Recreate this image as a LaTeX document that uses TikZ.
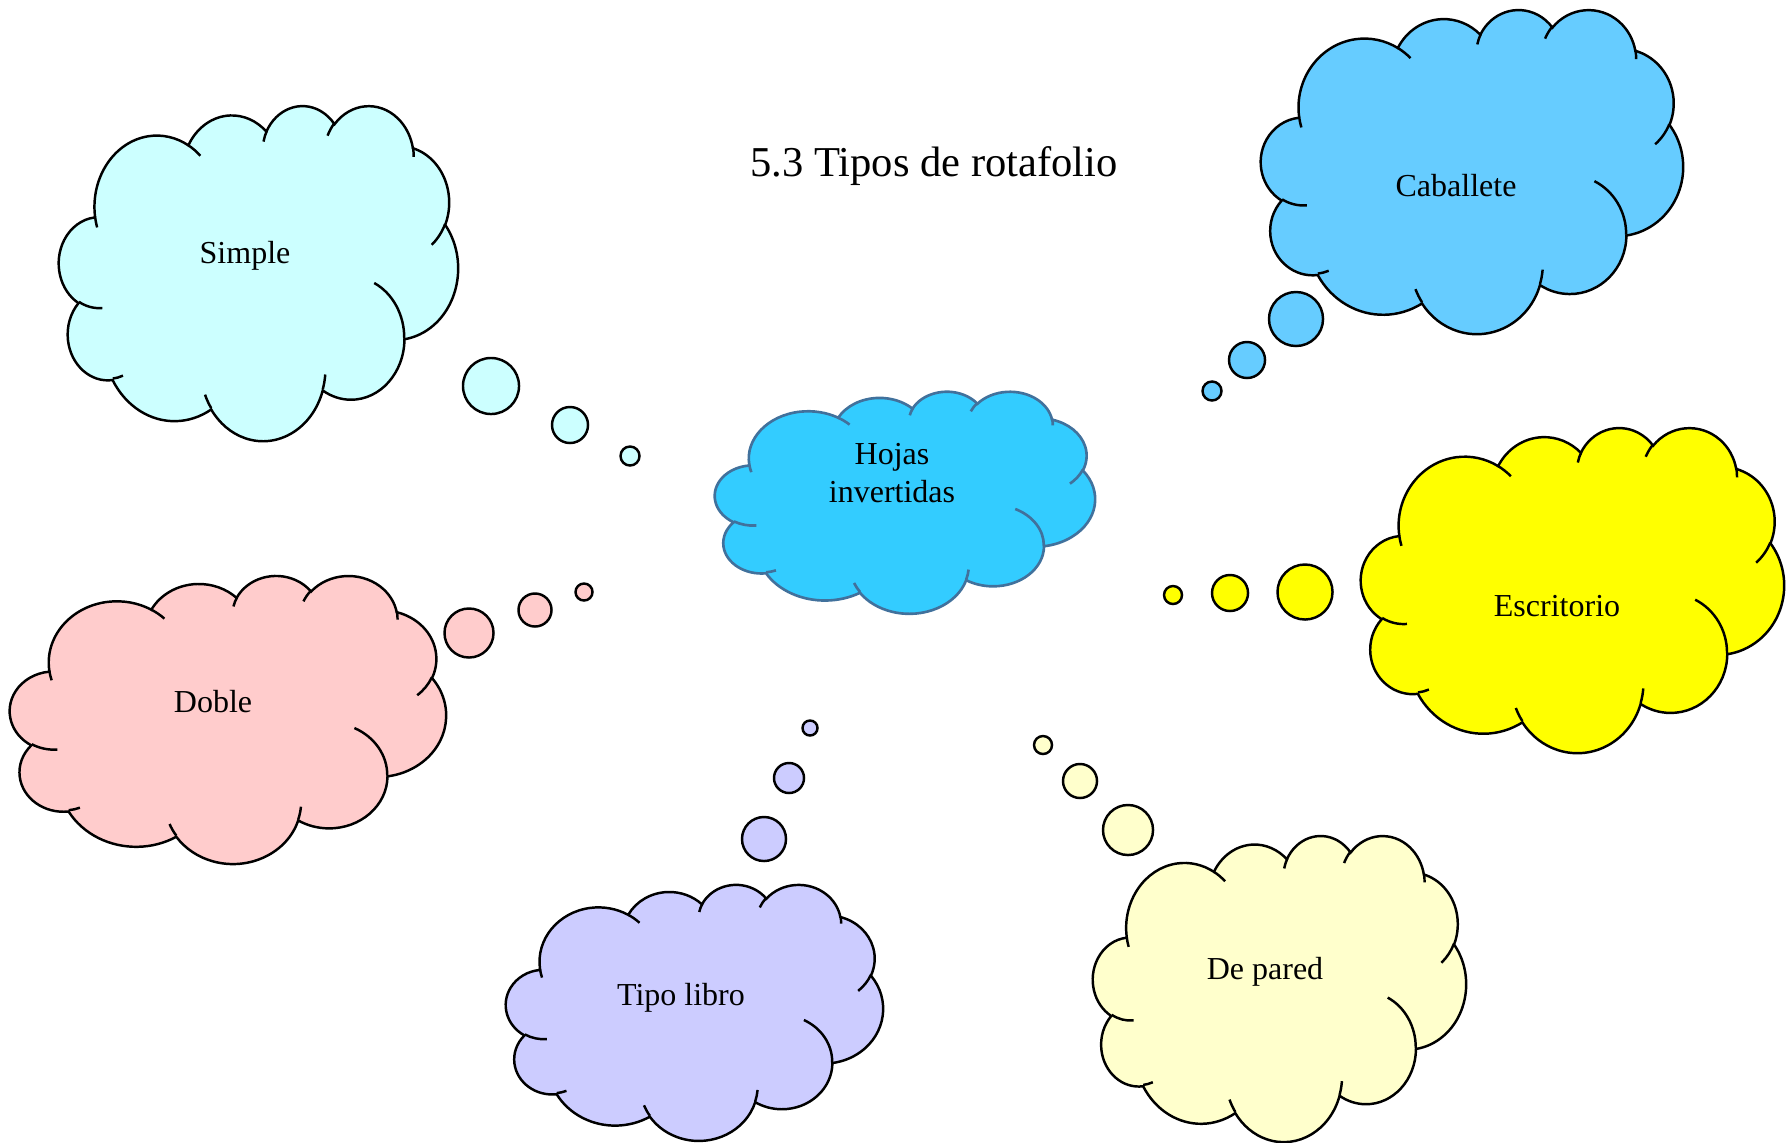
\documentclass[tikz,border=0pt]{standalone}
\usepackage{fontspec}
\setmainfont{Liberation Serif}
\usepackage{tikz}

\definecolor{simpleazul}{HTML}{CCFFFF}
\definecolor{caballeteazul}{HTML}{66CCFF}
\definecolor{hojasazul}{HTML}{33CCFF}
\definecolor{hojasborde}{HTML}{41719C}
\definecolor{doblerosa}{HTML}{FFCCCC}
\definecolor{escritorioamarillo}{HTML}{FFFF00}
\definecolor{librolila}{HTML}{CCCCFF}
\definecolor{paredcrema}{HTML}{FFFFCC}

\begin{document}
\begin{tikzpicture}[x=0.01cm,y=-0.01cm]
    \tikzset{
        oarc/.style n args={4}{
            x radius=#1,y radius=#2,
            start angle={atan2(#1*sin(#3),#2*cos(#3))},
            delta angle={mod(atan2(#1*sin(#3+#4),#2*cos(#3+#4))-atan2(#1*sin(#3),#2*cos(#3))+720,360)}
        },
        nube/.pic={
            \path[pic actions] (3.9,14.37)
                arc[oarc={6.753}{9.19}{-190.4875}{123.7805}]
                arc[oarc={5.333}{7.267}{-144.1024}{89.9452}]
                arc[oarc={4.365}{5.945}{-145.8079}{99.723}]
                arc[oarc={4.857}{6.595}{-130.9861}{117.2417}]
                arc[oarc={5.333}{7.273}{-78.7089}{109.0269}]
                arc[oarc={6.775}{9.22}{-46.2673}{130.269}]
                arc[oarc={5.785}{7.867}{0.625}{114.0333}]
                arc[oarc={6.752}{9.215}{22.4516}{115.1726}]
                arc[oarc={7.72}{10.543}{66.2426}{75.711}]
                arc[oarc={4.36}{5.918}{-274.9421}{146.7356}]
                arc[oarc={4.345}{5.945}{-246.8285}{152.5189}]
                -- cycle;
            \path[pic actions,fill=none]
                (4.693,26.177) arc[oarc={4.345}{5.945}{86.742}{26.4295}]
                (6.928,34.899) arc[oarc={4.36}{5.918}{73.6105}{11.4475}]
                (16.478,39.09) arc[oarc={6.752}{9.215}{137.6242}{14.0811}]
                (28.827,34.751) arc[oarc={6.752}{9.215}{6.4533}{15.9984}]
                (34.129,22.954) arc[oarc={5.785}{7.867}{-70.2924}{70.9174}]
                (41.798,15.354) arc[oarc={5.333}{7.273}{30.318}{27.7515}]
                (38.324,5.426) arc[oarc={4.857}{6.595}{-13.7443}{14.8622}]
                (29.078,3.952) arc[oarc={4.857}{6.595}{-149.1815}{18.1954}]
                (22.141,4.72) arc[oarc={4.365}{5.945}{-163.4943}{17.6864}]
                (14,5.192) arc[oarc={6.753}{9.19}{-66.707}{12.3194}]
                (4.127,15.789) arc[oarc={6.753}{9.19}{157.6544}{11.8582}];
        },
        contorno/.style={draw=black,line width=0.7pt},
        burbuja/.style={circle,contorno,inner sep=0pt,outer sep=0pt},
        texto/.style={font=\fontsize{9.1}{11}\selectfont,align=center}
    }

    \useasboundingbox (0,0) rectangle (1786,1142);

    \node[font=\fontsize{12.1}{14.5}\selectfont] (titulo) at (934,166)
        {5.3 Tipos de rotafolio};

    \pic[contorno,fill=simpleazul,xscale=399/43.2,yscale=335/43.2] at (59,105) {nube};
    \node[texto] (simple) at (245,256) {Simple};

    \pic[contorno,fill=caballeteazul,xscale=422/43.2,yscale=324/43.2] at (1261,9) {nube};
    \node[texto] (caballete) at (1456,186) {Caballete};

    \pic[draw=hojasborde,line width=0.75pt,fill=hojasazul,xscale=380/43.2,yscale=222/43.2] at (715,391) {nube};
    \node[texto] (hojas) at (892,473) {Hojas\\invertidas};

    \pic[contorno,fill=doblerosa,xscale=436/43.2,yscale=288/43.2] at (10,575) {nube};
    \node[texto] (doble) at (213,702) {Doble};

    \pic[contorno,fill=escritorioamarillo,xscale=423/43.2,yscale=325/43.2] at (1361,427) {nube};
    \node[texto] (escritorio) at (1557,606) {Escritorio};

    \pic[contorno,fill=librolila,xscale=377/43.2,yscale=256/43.2] at (506,884) {nube};
    \node[texto] (libro) at (681,998) {Tipo libro};

    \pic[contorno,fill=paredcrema,xscale=373/43.2,yscale=306/43.2] at (1093,835) {nube};
    \node[texto] (pared) at (1265,972) {De pared};

    \foreach \n/\c/\x/\y/\r in {
        simple-a/simpleazul/491/386/28,simple-b/simpleazul/570/425/18,
        simple-c/simpleazul/630/456/9.5,
        caballete-a/caballeteazul/1296/319/27,caballete-b/caballeteazul/1247/360/18,
        caballete-c/caballeteazul/1212/391/9.5,
        doble-a/doblerosa/469/633/24.5,doble-b/doblerosa/535/610/16.5,
        doble-c/doblerosa/584/592/8.5,
        escritorio-a/escritorioamarillo/1305/592/27.5,
        escritorio-b/escritorioamarillo/1230/593/18,
        escritorio-c/escritorioamarillo/1173/595/9,
        libro-a/librolila/764/839/22,libro-b/librolila/789/778/15,
        libro-c/librolila/810/728/7.5,
        pared-a/paredcrema/1128/830/25,pared-b/paredcrema/1080/781/17,
        pared-c/paredcrema/1043/745/9}{
        \node[burbuja,fill=\c,minimum size=\r*0.02cm] (\n) at (\x,\y) {};
    }
\end{tikzpicture}
\end{document}
